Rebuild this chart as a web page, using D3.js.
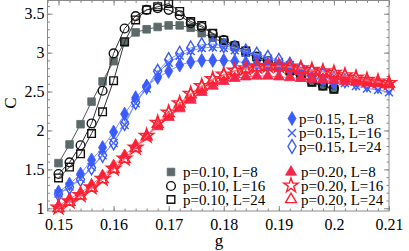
<!DOCTYPE html>
<html>
<head>
<meta charset="utf-8">
<title>C vs g</title>
<script src="https://d3js.org/d3.v7.min.js"></script>
<style>
  body { margin: 0; background: #fff; }
  svg text { font-family: "Liberation Serif", "Times New Roman", serif; fill: #000; }
</style>
</head>
<body>
<script>
// g values (x axis), step 0.002
var gVals = [0.150, 0.152, 0.154, 0.156, 0.158, 0.160, 0.162, 0.164, 0.166, 0.168,
             0.170, 0.172, 0.174, 0.176, 0.178, 0.180, 0.182, 0.184, 0.186, 0.188,
             0.190, 0.192, 0.194, 0.196, 0.198, 0.200, 0.202, 0.204, 0.206, 0.208, 0.210];

// p = 0.10
var p10L8  = [1.58, 1.82, 2.08, 2.37, 2.63, 2.89, 3.13, 3.26, 3.30, 3.33, 3.35, 3.35, 3.32, 3.25, 3.19, 3.13, 3.07, 3.00, 2.93, 2.87, 2.81, 2.75, 2.68, 2.62, 2.57, 2.53];
var p10L16 = [1.44, 1.59, 1.81, 2.09, 2.51, 2.99, 3.31, 3.47, 3.55, 3.57, 3.55, 3.48, 3.38, 3.33, 3.24, 3.16, 3.09, 3.02, 2.95, 2.89, 2.84, 2.78, 2.71, 2.63, 2.58, 2.54];
var p10L24 = [1.39, 1.53, 1.70, 1.96, 2.24, 2.64, 3.14, 3.42, 3.55, 3.59, 3.63, 3.53, 3.40, 3.35, 3.25, 3.16, 3.09, 3.02, 2.95, 2.89, 2.83, 2.77, 2.70, 2.62, 2.57, 2.53];

// p = 0.15
var p15L8  = [1.21, 1.31, 1.44, 1.62, 1.78, 1.98, 2.21, 2.42, 2.57, 2.68, 2.76, 2.84, 2.88, 2.90, 2.90, 2.90, 2.89, 2.87, 2.85, 2.83, 2.80, 2.77, 2.73, 2.69, 2.65, 2.61];
var p15L16 = [1.19, 1.28, 1.38, 1.53, 1.68, 1.84, 2.07, 2.35, 2.54, 2.74, 2.87, 2.96, 3.02, 3.06, 3.07, 3.06, 3.03, 3.00, 2.96, 2.92, 2.88, 2.84, 2.79, 2.74, 2.69, 2.65, 2.61, 2.57, 2.54, 2.52, 2.49];
var p15L24 = [1.18, 1.27, 1.37, 1.52, 1.68, 1.84, 2.09, 2.36, 2.56, 2.76, 2.91, 2.99, 3.06, 3.10, 3.11, 3.09, 3.06, 3.02, 2.98, 2.94, 2.90, 2.85, 2.80, 2.75, 2.71, 2.67, 2.64, 2.61, 2.59, 2.57, 2.55];

// p = 0.20
var p20L8  = [1.03, 1.12, 1.20, 1.30, 1.42, 1.55, 1.68, 1.81, 1.93, 2.05, 2.17, 2.28, 2.39, 2.49, 2.57, 2.63, 2.67, 2.69, 2.70, 2.70, 2.69, 2.68, 2.67, 2.66, 2.65, 2.64, 2.63, 2.62, 2.61, 2.60, 2.59];
var p20L16 = [1.01, 1.09, 1.17, 1.27, 1.38, 1.51, 1.64, 1.78, 1.93, 2.10, 2.23, 2.35, 2.47, 2.57, 2.66, 2.72, 2.77, 2.80, 2.82, 2.83, 2.83, 2.82, 2.80, 2.78, 2.76, 2.74, 2.71, 2.68, 2.65, 2.63, 2.61];
var p20L24 = [1.00, 1.08, 1.16, 1.26, 1.37, 1.50, 1.63, 1.77, 1.92, 2.08, 2.22, 2.34, 2.46, 2.56, 2.65, 2.71, 2.76, 2.79, 2.81, 2.82, 2.82, 2.81, 2.79, 2.77, 2.75, 2.73, 2.70, 2.67, 2.64, 2.62, 2.60];

var xTicks = [0.15, 0.16, 0.17, 0.18, 0.19, 0.20, 0.21];
var yTicks = [1, 1.5, 2, 2.5, 3, 3.5];

var W = 409, H = 251;
var pLeft = 47.5, pRight = 389, pTop = 0.5, pBottom = 211;

var svg = d3.select("body").append("svg")
    .attr("width", W).attr("height", H);

var x = d3.scaleLinear().domain([0.148, 0.21]).range([pLeft, pRight]);
var y = d3.scaleLinear().domain([0.965, 3.67]).range([pBottom, pTop]);

var grey = "#8a8a8a";

// axes, ticks pointing inside
function styleAxis(g) {
    g.select(".domain").remove();
    g.selectAll(".tick line").attr("stroke", grey);
    g.selectAll(".tick text").style("font-size", "16px");
}
var fmt = function(d) { return String(+d.toFixed(2)); };
var xMinor = d3.range(0.148, 0.2101, 0.002);
var yMinor = d3.range(1, 3.66, 0.1);

svg.append("g").attr("transform", "translate(0," + pBottom + ")")
    .call(d3.axisBottom(x).tickValues(xMinor).tickSize(-2.5).tickFormat(""))
    .call(styleAxis);
svg.append("g").attr("transform", "translate(0," + pBottom + ")")
    .call(d3.axisBottom(x).tickValues(xTicks).tickSizeInner(-5).tickSizeOuter(0).tickPadding(8).tickFormat(fmt))
    .call(styleAxis);
svg.append("g").attr("transform", "translate(0," + pTop + ")")
    .call(d3.axisTop(x).tickValues(xMinor).tickSize(-2.5).tickFormat(""))
    .call(styleAxis);
svg.append("g").attr("transform", "translate(0," + pTop + ")")
    .call(d3.axisTop(x).tickValues(xTicks).tickSize(-5).tickFormat(""))
    .call(styleAxis);
svg.append("g").attr("transform", "translate(" + pLeft + ",0)")
    .call(d3.axisLeft(y).tickValues(yMinor).tickSize(-2.5).tickFormat(""))
    .call(styleAxis);
svg.append("g").attr("transform", "translate(" + pLeft + ",0)")
    .call(d3.axisLeft(y).tickValues(yTicks).tickSizeInner(-5).tickSizeOuter(0).tickPadding(3).tickFormat(fmt))
    .call(styleAxis);
svg.append("g").attr("transform", "translate(" + pRight + ",0)")
    .call(d3.axisRight(y).tickValues(yMinor).tickSize(-2.5).tickFormat(""))
    .call(styleAxis);
svg.append("g").attr("transform", "translate(" + pRight + ",0)")
    .call(d3.axisRight(y).tickValues(yTicks).tickSize(-5).tickFormat(""))
    .call(styleAxis);

svg.append("rect")
    .attr("x", pLeft).attr("y", pTop)
    .attr("width", pRight - pLeft).attr("height", pBottom - pTop)
    .attr("fill", "none").attr("stroke", grey).attr("stroke-width", 1);

svg.append("text").attr("x", 219).attr("y", 246)
    .attr("text-anchor", "middle").style("font-size", "17px").text("g");
svg.append("text").attr("transform", "translate(16,103) rotate(-90)")
    .attr("text-anchor", "middle").style("font-size", "17px").text("C");

// marker shapes
var sym = {
    square:   d3.symbol().type(d3.symbolSquare).size(58)(),
    circle:   d3.symbol().type(d3.symbolCircle).size(60)(),
    diamond:  d3.symbol().type(d3.symbolDiamond).size(56)(),
    cross:    "M-4,-4L4,4M-4,4L4,-4",
    triangle: d3.symbol().type(d3.symbolTriangle).size(52)(),
    star:     d3.symbol().type(d3.symbolStar).size(64)()
};

var blue = "#3a5cff", red = "#ff1f2e";

var series = [
    {label: "p=0.10, L=8",  vals: p10L8,  shape: "square",   fill: "#5c6a6a", stroke: "#5c6a6a", line: "#555"},
    {label: "p=0.10, L=16", vals: p10L16, shape: "circle",   fill: "none",    stroke: "#111",    line: "#333"},
    {label: "p=0.10, L=24", vals: p10L24, shape: "square",   fill: "none",    stroke: "#111",    line: "#333"},
    {label: "p=0.15, L=8",  vals: p15L8,  shape: "diamond",  fill: blue,      stroke: blue,      line: "#7d93ff"},
    {label: "p=0.15, L=16", vals: p15L16, shape: "cross",    fill: "none",    stroke: blue,      line: "#7d93ff"},
    {label: "p=0.15, L=24", vals: p15L24, shape: "diamond",  fill: "none",    stroke: blue,      line: "#7d93ff"},
    {label: "p=0.20, L=8",  vals: p20L8,  shape: "triangle", fill: "#f5264a", stroke: "#f5264a", line: "#ff6a72"},
    {label: "p=0.20, L=16", vals: p20L16, shape: "star",     fill: "none",    stroke: red,       line: "#ff6a72"},
    {label: "p=0.20, L=24", vals: p20L24, shape: "triangle", fill: "none",    stroke: red,       line: "#ff6a72"}
];

var line = d3.line()
    .x(function(d) { return x(d[0]); })
    .y(function(d) { return y(d[1]); });

series.forEach(function(s) {
    var pts = s.vals.map(function(v, i) { return [gVals[i], v]; });
    var g = svg.append("g");
    g.append("path").attr("d", line(pts))
        .attr("fill", "none").attr("stroke", s.line).attr("stroke-width", 1);
    g.selectAll("path.m").data(pts).enter().append("path")
        .attr("class", "m")
        .attr("transform", function(d) { return "translate(" + x(d[0]) + "," + y(d[1]) + ")"; })
        .attr("d", sym[s.shape])
        .attr("fill", s.fill).attr("stroke", s.stroke)
        .attr("stroke-width", s.fill === "none" ? 1.4 : 0.8);
});

// legends
var legendPos = [
    [171, 172, 183], [171, 186, 183], [171, 199.5, 183],
    [292, 118.5, 299], [292, 133, 299], [292, 146.5, 299],
    [291, 172, 301], [291, 185.5, 301], [291, 199.5, 301]
];
series.forEach(function(s, i) {
    var p = legendPos[i];
    svg.append("text").attr("x", p[2]).attr("y", p[1] + 5)
        .style("font-size", "15px").text(s.label);
});
series.forEach(function(s, i) {
    var p = legendPos[i];
    svg.append("path").attr("transform", "translate(" + p[0] + "," + p[1] + ")")
        .attr("d", sym[s.shape])
        .attr("fill", s.fill).attr("stroke", s.stroke)
        .attr("stroke-width", s.fill === "none" ? 1.4 : 0.8);
});
</script>
</body>
</html>
